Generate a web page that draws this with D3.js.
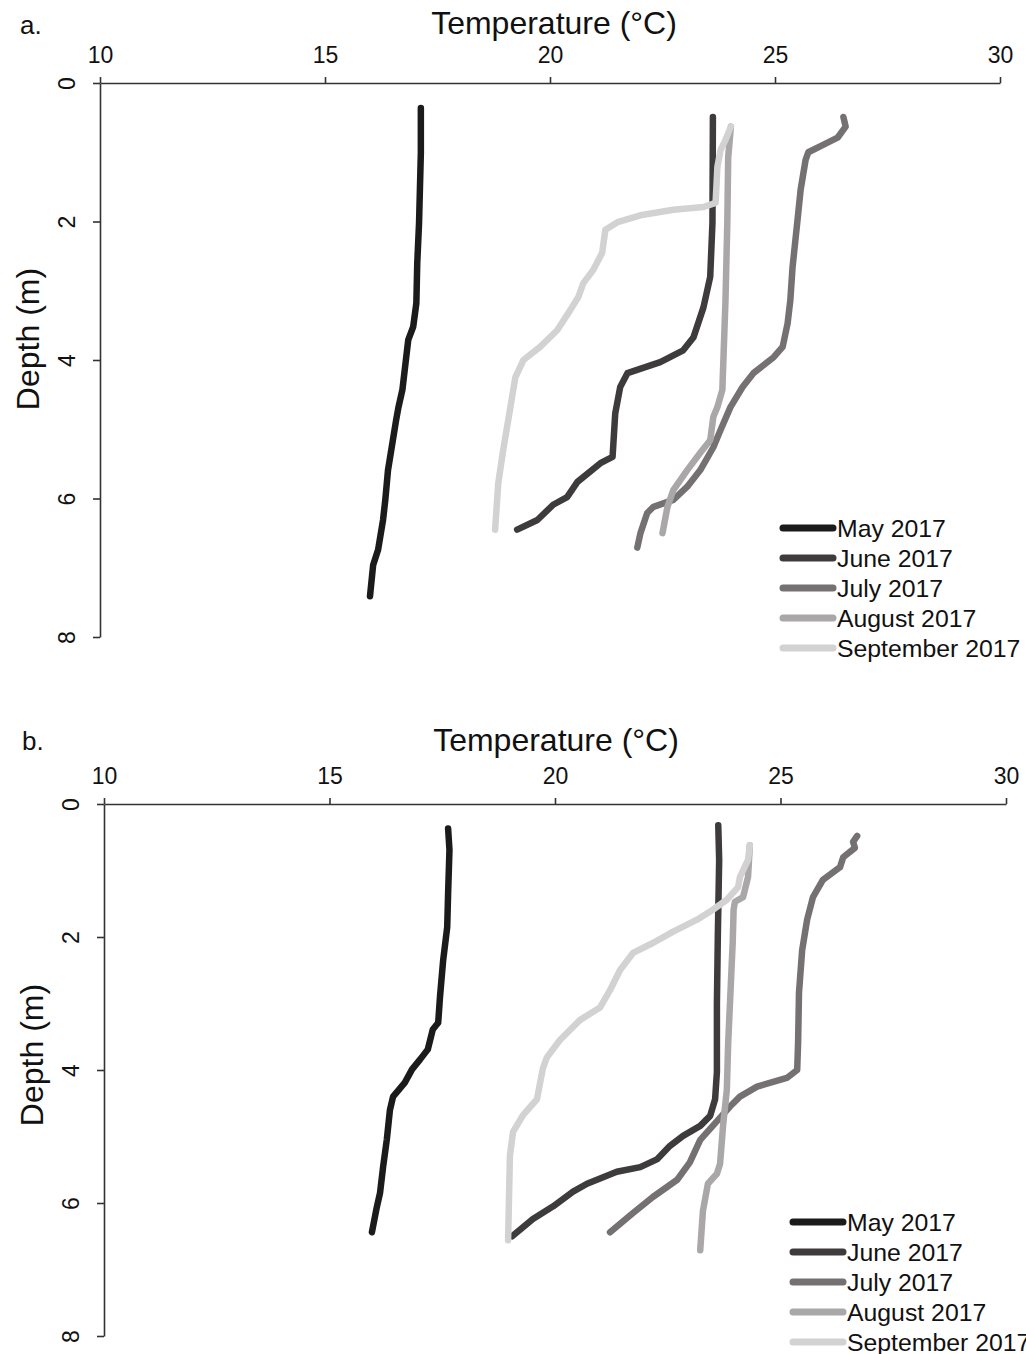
<!DOCTYPE html>
<html><head><meta charset="utf-8">
<script src="https://cdn.jsdelivr.net/npm/d3@7"></script>
<style>body{margin:0;background:#fff}svg{display:block}text{font-family:"Liberation Sans",Arial,sans-serif;fill:#111}</style>
</head><body>
<svg id="c" width="1026" height="1354"></svg>
<script>
// ---- data: [temperature °C, depth m] ----
const months = ["May 2017","June 2017","July 2017","August 2017","September 2017"];
const colors = ["#1c1b1b","#3e3b3c","#757172","#a9a7a8","#d2d2d2"];
const xTicks = [10,15,20,25,30];
const yTicks = [0,2,4,6,8];

// Panel a
const aMay = [[17.13,0.36],[17.13,1.01],[17.09,2.02],[17.05,2.6],[17.03,3.18],[16.96,3.52],[16.85,3.71],[16.72,4.43],[16.63,4.69],[16.58,4.87],[16.40,5.59],[16.34,6.02],[16.29,6.31],[16.18,6.74],[16.07,6.96],[16.00,7.41]];
const aJun = [[23.62,0.49],[23.61,2.02],[23.56,2.80],[23.41,3.24],[23.19,3.67],[22.96,3.86],[22.45,4.03],[21.72,4.19],[21.56,4.39],[21.45,4.77],[21.39,5.40],[21.12,5.49],[20.61,5.76],[20.38,5.98],[20.07,6.09],[19.72,6.31],[19.27,6.45]];
const aJul = [[26.52,0.49],[26.57,0.63],[26.39,0.79],[26.08,0.89],[25.74,1.0],[25.68,1.11],[25.57,1.54],[25.50,1.98],[25.39,2.66],[25.34,3.14],[25.28,3.47],[25.17,3.81],[24.97,3.96],[24.52,4.19],[24.28,4.39],[24.01,4.68],[23.79,5.01],[23.63,5.26],[23.34,5.59],[23.05,5.83],[22.74,6.02],[22.30,6.12],[22.16,6.21],[22.01,6.50],[21.94,6.71]];
const aAug = [[24.02,0.63],[23.96,1.07],[23.94,2.02],[23.90,3.13],[23.83,4.43],[23.72,4.68],[23.63,4.82],[23.56,5.16],[23.34,5.34],[23.05,5.59],[22.74,5.88],[22.61,6.12],[22.50,6.50]];
const aSep = [[24.02,0.63],[23.90,0.82],[23.79,0.97],[23.72,1.21],[23.68,1.73],[23.41,1.79],[22.74,1.83],[22.01,1.91],[21.50,2.01],[21.23,2.12],[21.16,2.45],[20.96,2.70],[20.74,2.89],[20.63,3.09],[20.45,3.28],[20.16,3.57],[19.78,3.81],[19.41,4.0],[19.23,4.25],[19.12,4.68],[18.96,5.30],[18.85,5.78],[18.78,6.45]];

// Panel b
const bMay = [[17.63,0.37],[17.66,0.69],[17.63,1.34],[17.61,1.85],[17.52,2.35],[17.45,2.90],[17.41,3.29],[17.29,3.39],[17.18,3.69],[17.01,3.84],[16.83,3.99],[16.67,4.19],[16.41,4.40],[16.34,4.60],[16.27,5.05],[16.19,5.45],[16.12,5.85],[16.05,6.06],[15.94,6.44]];
const bJun = [[23.62,0.32],[23.64,0.84],[23.61,2.0],[23.59,3.0],[23.59,4.03],[23.55,4.44],[23.44,4.69],[23.22,4.84],[22.84,4.99],[22.55,5.14],[22.27,5.34],[21.89,5.46],[21.37,5.53],[20.71,5.71],[20.40,5.83],[19.96,6.05],[19.51,6.24],[19.05,6.50]];
const bJul = [[26.70,0.48],[26.61,0.57],[26.65,0.66],[26.39,0.80],[26.32,0.95],[25.94,1.14],[25.72,1.40],[25.59,1.74],[25.48,2.20],[25.41,2.84],[25.39,3.59],[25.37,4.0],[25.14,4.12],[24.48,4.25],[24.10,4.40],[23.88,4.55],[23.22,5.05],[22.99,5.39],[22.71,5.65],[22.17,5.91],[21.73,6.15],[21.22,6.44]];
const bAug = [[24.32,0.62],[24.28,1.10],[24.17,1.40],[23.99,1.47],[23.96,1.59],[23.94,2.09],[23.89,2.84],[23.84,3.59],[23.81,4.30],[23.73,4.81],[23.66,5.41],[23.59,5.56],[23.39,5.71],[23.28,6.12],[23.22,6.71]];
const bSep = [[24.32,0.62],[24.28,0.84],[24.10,1.10],[24.06,1.25],[23.81,1.44],[23.50,1.59],[23.15,1.74],[22.62,1.92],[22.17,2.09],[21.73,2.24],[21.44,2.50],[21.22,2.80],[21.00,3.06],[20.55,3.25],[20.11,3.55],[19.82,3.81],[19.73,3.98],[19.60,4.44],[19.29,4.68],[19.07,4.93],[19.00,5.29],[18.96,6.56]];

const svg = d3.select("#c");

function panel(cfg){
  const x = d3.scaleLinear([10,30],[cfg.x0,cfg.x1]);
  const y = d3.scaleLinear([0,8],[cfg.y0,cfg.y1]);
  const g = svg.append("g");

  const xa = g.append("g").attr("transform",`translate(0,${cfg.y0})`)
    .call(d3.axisTop(x).tickValues(xTicks).tickSize(6).tickSizeOuter(0).tickPadding(14));
  xa.selectAll("text").attr("font-size",23).attr("font-family","Liberation Sans, Arial, sans-serif").attr("fill","#111");
  const ya = g.append("g").attr("transform",`translate(${cfg.x0},0)`)
    .call(d3.axisLeft(y).tickValues(yTicks).tickSize(7).tickSizeOuter(0));
  ya.selectAll("text").attr("transform","rotate(-90)").attr("x",0).attr("y",-25).attr("dy",0)
    .attr("text-anchor","middle").attr("font-size",23).attr("font-family","Liberation Sans, Arial, sans-serif").attr("fill","#111");
  g.selectAll(".domain, .tick line").attr("stroke","#333").attr("stroke-width",1.6);

  g.append("text").attr("x",cfg.titleX).attr("y",cfg.titleY).attr("text-anchor","middle")
    .attr("font-size",32).text("Temperature (°C)");
  g.append("text").attr("transform",`translate(${cfg.ylabX},${cfg.ylabY}) rotate(-90)`)
    .attr("text-anchor","middle").attr("font-size",32).text("Depth (m)");
  g.append("text").attr("x",cfg.letX).attr("y",cfg.letY).attr("font-size",26).text(cfg.letter);

  const line = d3.line().x(d=>x(d[0])).y(d=>y(d[1]));
  cfg.series.forEach((s,i)=>{
    g.append("path").attr("d",line(s)).attr("fill","none").attr("stroke",colors[i])
      .attr("stroke-width",6.5).attr("stroke-linecap","round").attr("stroke-linejoin","round");
  });

  const lg = g.append("g");
  months.forEach((m,i)=>{
    const yy = cfg.legY + i*30;
    lg.append("line").attr("x1",cfg.legX).attr("x2",cfg.legX+50).attr("y1",yy).attr("y2",yy)
      .attr("stroke",colors[i]).attr("stroke-width",7).attr("stroke-linecap","round");
    lg.append("text").attr("x",cfg.legX+54).attr("y",yy+9).attr("font-size",24.8).text(m);
  });
}

panel({x0:100,x1:1000,y0:83,y1:637,series:[aMay,aJun,aJul,aAug,aSep],
  titleX:554,titleY:34,ylabX:39,ylabY:339,letter:"a.",letX:20,letY:34,legX:783,legY:528});
panel({x0:104,x1:1006,y0:804,y1:1336,series:[bMay,bJun,bJul,bAug,bSep],
  titleX:556,titleY:751,ylabX:43,ylabY:1055,letter:"b.",letX:22,letY:750,legX:793,legY:1222});
</script>
</body></html>
